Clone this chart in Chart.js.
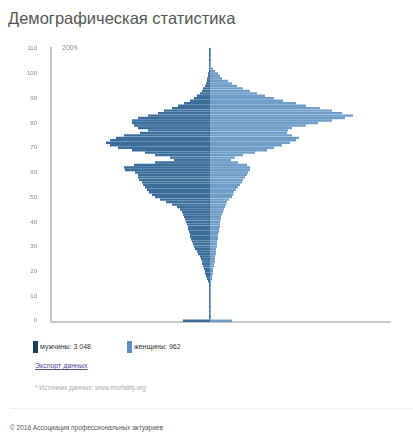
<!DOCTYPE html>
<html>
<head>
<meta charset="utf-8">
<script src="https://cdn.jsdelivr.net/npm/chart.js@4"></script>
<style>
  body { margin:0; width:413px; height:441px; background:#fff; font-family:"Liberation Sans", Arial, sans-serif; position:relative; overflow:hidden; }
  .abs { position:absolute; white-space:nowrap; }
  #title { left:8px; top:9px; font-size:16.5px; color:#555; }
  #year { left:62px; top:44px; font-size:7px; color:#888; }
  #wrap { position:absolute; left:0; top:38px; width:400px; height:295px; }
  .sw { position:absolute; width:5px; height:12px; }
  .lg { font-size:7px; color:#333; }
  #link { left:35px; top:362px; font-size:7px; color:#4a4ea0; text-decoration:underline; }
  #src { left:35px; top:384px; font-size:6.5px; color:#aaa; }
  #sep { position:absolute; left:10px; top:408px; width:403px; height:1px; background:#eee; }
  #copy { left:10px; top:424px; font-size:6.5px; color:#555; }
</style>
</head>
<body>
<div id="title" class="abs">Демографическая статистика</div>
<div id="wrap"><canvas id="pyramid"></canvas></div>
<div id="year" class="abs">2009</div>

<div class="sw" style="left:33px;top:341px;background:#1f3f5f"></div>
<div class="abs lg" style="left:40px;top:343px">мужчины: 3 048</div>
<div class="sw" style="left:127px;top:341px;background:#5b8fc0"></div>
<div class="abs lg" style="left:134px;top:343px">женщины: 962</div>
<div id="link" class="abs">Экспорт данных</div>
<div id="src" class="abs">* Источник данных: www.mortality.org</div>
<div id="sep"></div>
<div id="copy" class="abs">© 2016 Ассоциация профессиональных актуариев</div>

<script>
// возраст 0..110
const ages = [];
for (let a = 0; a <= 110; a++) ages.push(a);

// мужчины (по возрасту 0..110)
const male = [
  27, 1, 1, 1, 1, 1, 1, 1, 1, 1,
  1, 1, 1, 1, 1, 1, 2, 3, 4, 5,
  5, 6, 7, 8, 8, 9, 10, 12, 13, 15,
  16, 17, 18, 19, 20, 20, 21, 22, 22, 23,
  24, 25, 26, 27, 28, 30, 33, 38, 44, 50,
  55, 58, 61, 63, 65, 67, 68, 71, 72, 72,
  75, 85, 86, 76, 55, 36, 40, 55, 65, 78,
  92, 100, 104, 100, 94, 86, 70, 62, 72, 76,
  78, 78, 72, 62, 52, 46, 38, 32, 26, 20,
  16, 13, 10, 8, 7, 5, 4, 3, 3, 2,
  2, 1, 1, 1, 1, 1, 1, 1, 1, 1,
  1
];

// женщины (по возрасту 0..110)
const female = [
  22, 1, 1, 1, 1, 1, 1, 1, 1, 1,
  1, 1, 1, 1, 1, 1, 1, 2, 2, 3,
  3, 3, 4, 4, 5, 5, 5, 6, 6, 6,
  7, 7, 7, 8, 8, 8, 9, 9, 10, 10,
  10, 11, 11, 12, 13, 14, 15, 16, 17, 19,
  22, 23, 24, 26, 28, 30, 32, 33, 35, 37,
  38, 40, 40, 37, 28, 21, 25, 33, 45, 57,
  64, 72, 80, 86, 89, 82, 77, 78, 82, 96,
  108, 122, 135, 143, 132, 122, 110, 96, 86, 73,
  64, 55, 47, 40, 33, 27, 22, 18, 12, 10,
  8, 5, 3, 1, 1, 1, 1, 1, 1, 1,
  1
];

const ctx = document.getElementById("pyramid");
new Chart(ctx, {
  type: 'bar',
  data: {
    labels: ages,
    datasets: [
      {
        label: 'мужчины',
        data: male.map(v => -v),
        backgroundColor: '#3b6e9b',
        barPercentage: 1,
        categoryPercentage: 0.97
      },
      {
        label: 'женщины',
        data: female,
        backgroundColor: '#6f9dc8',
        barPercentage: 1,
        categoryPercentage: 0.97
      }
    ]
  },
  options: {
    indexAxis: 'y',
    responsive: true,
    maintainAspectRatio: false,
    animation: false,
    layout: { padding: { top: 9, right: 10, bottom: 11, left: 0 } },
    plugins: {
      legend: { display: false },
      tooltip: { enabled: false }
    },
    scales: {
      x: {
        stacked: true,
        min: -159,
        max: 180,
        grid: { display: false },
        ticks: { display: false },
        border: { color: '#c8c8c8', width: 2 },
        afterFit: s => { s.height = 0; }
      },
      y: {
        stacked: true,
        reverse: true,
        grid: { display: false },
        border: { color: '#c8c8c8', width: 2 },
        ticks: {
          autoSkip: false,
          font: { size: 6, family: 'Liberation Sans' },
          color: '#888',
          padding: 6,
          callback: function (val, i) {
            return ages[i] % 10 === 0 ? String(ages[i]) : null;
          }
        },
        afterFit: s => { s.width = 51; }
      }
    }
  }
});
</script>
</body>
</html>
